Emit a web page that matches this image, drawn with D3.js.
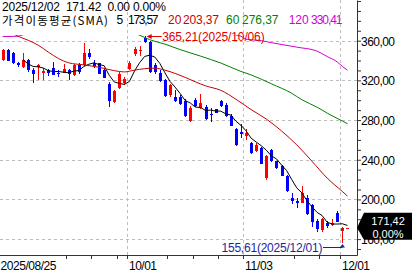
<!DOCTYPE html>
<html><head><meta charset="utf-8">
<script src="https://cdn.jsdelivr.net/npm/d3@7"></script>
<style>html,body{margin:0;padding:0;background:#fff;overflow:hidden}svg{display:block}</style>
</head><body><svg id="c" width="412" height="274"></svg>
<script>
// ---------- data ----------
const dates = ["2025-08-26","2025-08-27","2025-08-28","2025-08-29",
 "2025-09-02","2025-09-03","2025-09-04","2025-09-05","2025-09-08","2025-09-09","2025-09-10","2025-09-11","2025-09-12",
 "2025-09-15","2025-09-16","2025-09-17","2025-09-18","2025-09-19","2025-09-22","2025-09-23","2025-09-24","2025-09-25","2025-09-26",
 "2025-09-29","2025-09-30","2025-10-01","2025-10-02","2025-10-03","2025-10-06","2025-10-07","2025-10-08","2025-10-09","2025-10-10",
 "2025-10-13","2025-10-14","2025-10-15","2025-10-16","2025-10-17","2025-10-20","2025-10-21","2025-10-22","2025-10-23","2025-10-24",
 "2025-10-27","2025-10-28","2025-10-29","2025-10-30","2025-10-31","2025-11-03","2025-11-04","2025-11-05","2025-11-06","2025-11-07",
 "2025-11-10","2025-11-11","2025-11-12","2025-11-13","2025-11-14","2025-11-17","2025-11-18","2025-11-19","2025-11-20","2025-11-21",
 "2025-11-24","2025-11-25","2025-11-26","2025-11-28","2025-12-01","2025-12-02"];
const opens = [340.7,351,347.3,337.7, 333.3,341,330.7,333.5,327.3,330.7,332.3,327.8,327.3,
 330,325.5,335.7,335,347.3,337.3,337.3,330,316.7,298.3, 312.7,317.3,331.7,347,349.3,363,359,335,327.3,320,
 305,303.3,303.3,299.3,279.3,300,292,293.3,286.5,290.7, 299.3,295,284.5,270.5,268,263.5,256.7,249.3,251.7,221.7,
 250,238.3,234,224,201.7,198.3,196.7,201,194,178, 169,176.5,174,186,168.3,171.42];
const highs = [352,352,348.3,338.5, 347.3,342,332.3,336.7,332.7,331,338.3,330.7,336.7,
 331,336.7,337.3,357.3,351.7,340.7,338,331.7,318.3,310.7, 328.3,323.3,340,353.5,355,365.21,360,337.3,330,321,
 316.7,310,305,301.7,294,302,306.7,295,291.7,291.5, 300.7,296.7,286,272,276,270.5,258.3,256.7,252.5,245,
 250.5,239,235,225,206.7,201.7,214,204,195,180, 181,178,180,188.5,172.5,171.42];
const lows = [340,339.5,336.7,333, 332.7,328.3,317.3,320.7,320.7,324,325,323.3,327,
 320.3,324.3,326.7,334,342,332.7,326,322,293.3,297.3, 311.7,315,330.7,345,345,357.5,327,326.7,318.5,303,
 303.5,298.3,295,282.7,278.5,293.5,291,280,278.3,287, 293.5,283.5,274,254,262,260,246,248,235.5,220,
 237.5,231,223.5,207.5,195,191.7,196,184.5,172.7,167, 167,171,173,177,155.61,171.42];
const closes = [351,340,337.5,335.2, 340.7,330,326.7,335.5,329.3,327.3,325.7,327,331.7,
 326.7,335.7,328.3,347.3,343.3,334,326.7,322.7,299.3,309.3, 326.7,321.7,337.7,351.7,351,358.5,328,328.3,319.3,304,
 315,299.3,296,284,291.7,294.5,297.5,280.7,285.5,287.3, 294,284,274.5,254.5,266,267,246.7,255,236,243.3,
 238.3,231.7,224,208.3,198.3,196,206.7,185,177,170, 180,173,176,177,171.42,171.42];

// moving averages (MA20 / MA60 / MA120 depend on earlier history)
const ma20Dates = ["2025-08-26","2025-08-28","2025-08-29","2025-09-03","2025-09-05","2025-09-09","2025-09-11","2025-09-15","2025-09-18",
 "2025-09-23","2025-09-26","2025-09-30","2025-10-02","2025-10-06","2025-10-08","2025-10-10","2025-10-14","2025-10-16","2025-10-20",
 "2025-10-22","2025-10-27","2025-10-30","2025-11-04","2025-11-07","2025-11-12","2025-11-17","2025-11-20","2025-11-25","2025-12-01","2025-12-02"];
const ma20Values = [373,367.2,364.5,360.5,355.5,348.5,342,337.7,335.6, 333.2,329.8,328.5,330.3,331.8,332.3,330.3,327,323,318.5,
 314.5,310,301,290.5,281,269,255,238.5,221.5,208,203.37];
const ma60Dates = ["2025-09-29","2025-10-01","2025-10-03","2025-10-07","2025-10-10","2025-10-15","2025-10-21","2025-10-27","2025-10-31",
 "2025-11-04","2025-11-10","2025-11-14","2025-11-18","2025-11-21","2025-11-25","2025-12-01","2025-12-02"];
const ma60Values = [373,369,365.5,361,356.5,351,344.5,337.5,329, 325.5,316.5,307,300.5,293,287,279,276.37];
const ma120Dates = ["2025-08-26","2025-08-28","2025-08-29","2025-09-02","2025-09-10","2025-09-22","2025-10-06","2025-10-17","2025-10-24",
 "2025-10-29","2025-10-31","2025-11-03","2025-11-06","2025-11-10","2025-11-17","2025-11-21","2025-11-25","2025-11-28","2025-12-01","2025-12-02"];
const ma120Values = [364.2,364.3,364.5,366,369,371,372,371,369, 366.5,364.5,361.5,360,358,353.5,349.5,344,338.5,334,330.41];

const yTickLabels = [360,320,280,240,200,160];
const xLabelDates = ["2025-10-01","2025-11-03","2025-12-01"];
const xLabelTexts = ["10/01","11/03","12/01"];
const firstXLabel = "2025/08/25";
const weekTickDates = ["2025-09-15","2025-09-22","2025-09-29","2025-10-13","2025-10-20","2025-10-27","2025-11-17","2025-11-24"];
const legendTitle = "가격이동평균(SMA)";
const maPeriods = [5,20,60,120];
const maLast = [173.57,203.37,276.37,330.41];
const headerDate = "2025/12/02";
const headerChange = "0.00", headerPct = "0.00%";
const highDate = "2025/10/06", lowDate = "2025/12/01";

// ---------- drawing ----------
const W = 412, H = 274, AX = 357, BOT = 255, TOP = 35;
const UP = "#ff0000", DOWN = "#0000ff";
const MA_COL = ["#000000","#c80000","#008000","#d200d2"];
const NUM_FONT = "'Liberation Sans', Arial, sans-serif";
const fmtC = v => d3.format(".2f")(v).replace(".", ",");

const svg = d3.select("#c");
svg.append("rect").attr("width", W).attr("height", H).attr("fill", "#fff");

const x = d3.scaleBand().domain(dates).range([0.165, 0.165 + dates.length * 5.07]).padding(0);
const cx = d => x(d) + x.bandwidth() / 2;
const y = d3.scaleLinear().domain([144, 401]).range([BOT, 0]);
const gx = d => Math.floor(cx(d) - 2.3) + 0.5;

// grid
svg.append("g").selectAll("line").data(yTickLabels).join("line")
  .attr("x1", 0).attr("x2", AX).attr("y1", v => Math.round(y(v)) + 0.5).attr("y2", v => Math.round(y(v)) + 0.5)
  .attr("stroke", "#bdbdbd").attr("stroke-dasharray", "3,3");
svg.append("g").selectAll("line").data(xLabelDates).join("line")
  .attr("x1", gx).attr("x2", gx).attr("y1", 0).attr("y2", BOT)
  .attr("stroke", "#bdbdbd").attr("stroke-dasharray", "3,3");

// plot (clipped)
svg.append("clipPath").attr("id", "pc").append("rect").attr("x", 0).attr("y", TOP).attr("width", AX).attr("height", BOT - TOP);
const plot = svg.append("g").attr("clip-path", "url(#pc)");

const data = dates.map((d, i) => ({ d, o: opens[i], h: highs[i], l: lows[i], c: closes[i] }));
const col = r => r.c >= r.o ? UP : DOWN;
const cg = plot.append("g").attr("shape-rendering", "crispEdges");
cg.selectAll("line").data(data).join("line")
  .attr("x1", r => Math.round(cx(r.d)) + 0.5).attr("x2", r => Math.round(cx(r.d)) + 0.5)
  .attr("y1", r => y(r.h)).attr("y2", r => y(r.l)).attr("stroke", col);
cg.selectAll("rect").data(data).join("rect")
  .attr("x", r => Math.round(cx(r.d)) - 1).attr("width", 3)
  .attr("y", r => y(Math.max(r.o, r.c)))
  .attr("height", r => Math.max(1, y(Math.min(r.o, r.c)) - y(Math.max(r.o, r.c))))
  .attr("fill", col);

// moving averages
const ma5 = closes.map((c, i) => i < 4 ? null : d3.mean(closes.slice(i - 4, i + 1)));
const series = [
  { pts: dates.map((d, i) => ({ d, v: ma5[i] })), c: MA_COL[0], curve: d3.curveLinear },
  { pts: ma20Dates.map((d, i) => ({ d, v: ma20Values[i] })), c: MA_COL[1], curve: d3.curveMonotoneX },
  { pts: ma60Dates.map((d, i) => ({ d, v: ma60Values[i] })), c: MA_COL[2], curve: d3.curveMonotoneX },
  { pts: ma120Dates.map((d, i) => ({ d, v: ma120Values[i] })), c: MA_COL[3], curve: d3.curveMonotoneX }
];
series.forEach(s => {
  const ln = d3.line().defined(p => p.v != null).x(p => cx(p.d)).y(p => y(p.v)).curve(s.curve);
  plot.append("path").attr("d", ln(s.pts)).attr("fill", "none").attr("stroke", s.c).attr("stroke-width", 1);
});

// right axis
const yAxis = d3.axisRight(y).tickValues(d3.range(150, 401, 10)).tickSize(4).tickSizeOuter(0).tickPadding(0)
  .tickFormat(v => yTickLabels.includes(v) ? fmtC(v) : "");
const ya = svg.append("g").attr("transform", `translate(${AX},0)`).call(yAxis);
ya.select(".domain").attr("stroke", "#333");
ya.selectAll(".tick line").attr("stroke", "#333");
ya.selectAll(".tick text").attr("font-family", NUM_FONT).attr("font-size", 12).attr("fill", "#000")
  .attr("x", 4).attr("dy", "0.36em")
  .each(function () { if (this.textContent) d3.select(this).attr("textLength", 34); });

// bottom axis
svg.append("line").attr("x1", 0).attr("x2", AX + 0.5).attr("y1", BOT + 0.5).attr("y2", BOT + 0.5).attr("stroke", "#333");
svg.append("g").selectAll("line").data(weekTickDates.concat(xLabelDates)).join("line")
  .attr("x1", gx).attr("x2", gx).attr("y1", BOT + 1).attr("y2", BOT + 4).attr("stroke", "#333");
const xl = svg.append("g").attr("font-family", NUM_FONT).attr("font-size", 12).attr("fill", "#000");
xl.append("text").attr("x", 0.5).attr("y", 270).attr("textLength", 56).text(firstXLabel);
xl.selectAll("text.l").data(xLabelDates).join("text").attr("class", "l")
  .attr("x", d => gx(d) + 1.5).attr("y", 270).attr("textLength", 28)
  .text((d, i) => xLabelTexts[i]);

// legend
const last = data[data.length - 1];
svg.append("text").attr("x", 2).attr("y", 10.5).attr("font-family", NUM_FONT).attr("font-size", 12)
  .attr("fill", "#000").style("white-space", "pre").attr("textLength", 164)
  .text(`${headerDate}  ${d3.format(".2f")(last.c)}  ${headerChange} ${headerPct}`);
svg.append("text").attr("x", 2).attr("y", 24.5).attr("font-family", "'Noto Sans CJK KR', sans-serif")
  .attr("font-size", 11.5).attr("fill", "#000").attr("textLength", 106).text(legendTitle);
const perX = [116.5, 168, 226, 288.7];
const valX = [128, 183, 242, 311];
const valLen = [30.5, 36, 36.5, 31.5];
const lg = svg.append("g").attr("font-family", NUM_FONT).attr("font-size", 12);
lg.selectAll("text.p").data(maPeriods).join("text").attr("class", "p")
  .attr("x", (p, i) => perX[i]).attr("y", 24).attr("fill", (p, i) => i === 0 ? "#000" : MA_COL[i])
  .text(p => p);
lg.selectAll("text.v").data(maLast).join("text").attr("class", "v")
  .attr("x", (v, i) => valX[i]).attr("y", 24).attr("fill", (v, i) => i === 0 ? "#000" : MA_COL[i])
  .attr("textLength", (v, i) => valLen[i]).text(v => fmtC(v));

// high annotation
const hiIdx = d3.maxIndex(highs), loIdx = d3.minIndex(lows);
const hx = cx(dates[hiIdx]) + 2, hy = Math.round(y(highs[hiIdx])) + 0.5;
svg.append("line").attr("x1", hx + 3).attr("x2", hx + 15).attr("y1", hy).attr("y2", hy).attr("stroke", "#e00000");
svg.append("path").attr("d", `M${hx},${hy} L${hx + 5},${hy - 2.5} L${hx + 5},${hy + 2.5} Z`).attr("fill", "#e00000");
svg.append("text").attr("x", hx + 15.5).attr("y", 41).attr("font-family", NUM_FONT).attr("font-size", 12)
  .attr("fill", "#e00000").attr("textLength", 102.5).text(`${fmtC(highs[hiIdx])}(${highDate})`);

// low annotation
const lx = Math.round(cx(dates[loIdx])) + 0.5, ly = y(lows[loIdx]);
svg.append("text").attr("x", lx - 121).attr("y", 251.5).attr("font-family", NUM_FONT).attr("font-size", 12)
  .attr("fill", "#1e1e9e").attr("textLength", 101).text(`${fmtC(lows[loIdx])}(${lowDate})`);
svg.append("line").attr("x1", lx - 19.5).attr("x2", lx).attr("y1", 247.5).attr("y2", 247.5).attr("stroke", "#1e1e9e");
svg.append("path").attr("d", `M${lx},${ly + 0.5} L${lx - 2.5},${ly + 4} L${lx + 2.5},${ly + 4} Z`).attr("fill", "#1e1e9e");

// current price box
const py = y(last.c);
svg.append("path").attr("d", `M${AX},${py} L${AX + 7},${py - 15} L${W},${py - 15} L${W},${py + 12} L${AX + 7},${py + 12} Z`)
  .attr("fill", "#000");
svg.append("text").attr("x", 388).attr("y", py - 2.6).attr("text-anchor", "middle").attr("font-family", NUM_FONT)
  .attr("font-size", 11).attr("fill", "#fff").text(fmtC(last.c));
svg.append("text").attr("x", 388).attr("y", py + 9.8).attr("text-anchor", "middle").attr("font-family", NUM_FONT)
  .attr("font-size", 11).attr("fill", "#fff").text(fmtC(0) + "%");
</script></body></html>
